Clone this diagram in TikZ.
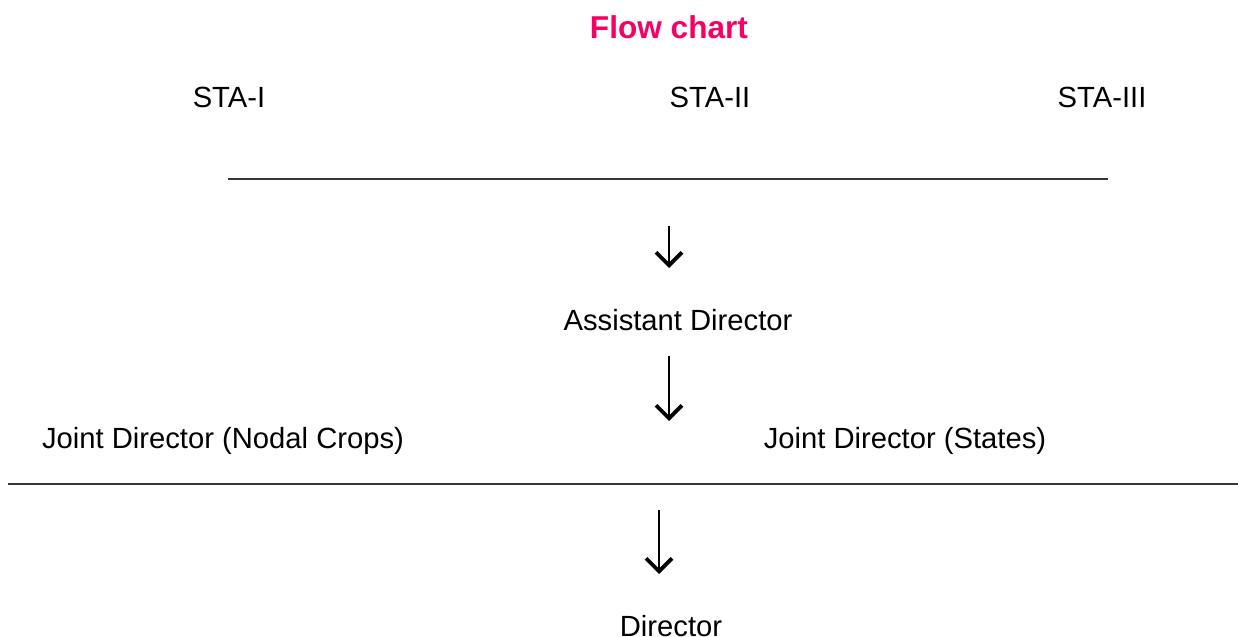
\documentclass[tikz,border=0pt]{standalone}
\usepackage{fontspec}
\setmainfont{Liberation Sans}
\usetikzlibrary{arrows.meta}
\definecolor{titlepink}{RGB}{245,0,100}
\definecolor{rulegray}{RGB}{55,55,55}
\tikzset{
  lbl/.style={font=\fontsize{14.6}{17}\selectfont, inner sep=0pt},
  rulerline/.style={draw=rulegray, line width=1pt},
  downarrow/.style={draw=black, line width=1.1pt, -{Straight Barb[length=6.5pt,width=13pt,line width=1.9pt]}}
}
\begin{document}
\begin{tikzpicture}[x=0.5pt,y=-0.5pt]
\useasboundingbox (0,0) rectangle (1238,637);

\node[lbl, font=\fontsize{15.8}{18}\selectfont\bfseries, text=titlepink] (title) at (669,27) {Flow chart};

\node[lbl] (sta1) at (229,97) {STA-I};
\node[lbl] (sta2) at (710,97) {STA-II};
\node[lbl] (sta3) at (1102,97) {STA-III};

\coordinate (L1a) at (228,179);
\coordinate (L1b) at (1108,179);
\draw[rulerline] (L1a) -- (L1b);

\coordinate (A1top) at (669,226);
\coordinate (A1tip) at (669,268);
\draw[downarrow] (A1top) -- (A1tip);

\node[lbl] (asst) at (678,320) {Assistant Director};

\coordinate (A2top) at (669,356);
\coordinate (A2tip) at (669,421);
\draw[downarrow] (A2top) -- (A2tip);

\node[lbl] (jdnc) at (223,441) {Joint Director (Nodal Crops)};
\node[lbl] (jds) at (905,441) {Joint Director (States)};

\coordinate (L2a) at (8,484);
\coordinate (L2b) at (1238,484);
\draw[rulerline] (L2a) -- (L2b);

\coordinate (A3top) at (659,510);
\coordinate (A3tip) at (659,574);
\draw[downarrow] (A3top) -- (A3tip);

\node[lbl] (dir) at (671,626) {Director};

\end{tikzpicture}
\end{document}
